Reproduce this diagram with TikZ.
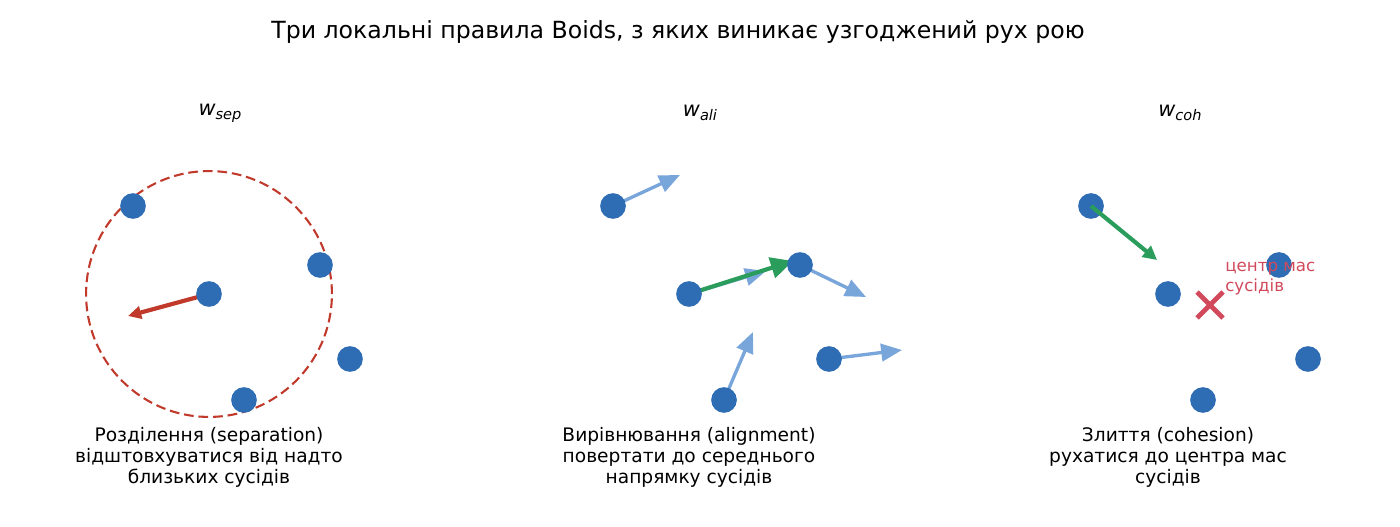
\documentclass[tikz,border=0pt]{standalone}
\usepackage{fontspec}
\setmainfont{DejaVu Sans}
\usetikzlibrary{arrows.meta,calc}
\definecolor{boid}{HTML}{2E6DB4}
\definecolor{sepred}{HTML}{C0392B}
\definecolor{alig}{HTML}{2A9D5C}
\definecolor{lblue}{HTML}{79A6DA}
\definecolor{xred}{HTML}{D1495B}
\tikzset{
  x=0.72pt, y=-0.72pt,
  boidnode/.style={circle, fill=boid, draw=none, minimum size=18.5pt, inner sep=0pt},
  labeltext/.style={align=center, inner sep=0pt, font=\fontsize{13.4}{15.2}\selectfont},
  wlabel/.style={inner sep=0pt, font=\fontsize{15}{16}\selectfont},
  headingtext/.style={inner sep=0pt, font=\fontsize{17}{19}\selectfont},
  redarrow/.style={draw=sepred, line width=3pt, -{Triangle[length=9.5pt,width=9pt]}},
  greenarrow/.style={draw=alig, line width=3pt, -{Triangle[length=10pt,width=10pt]}},
  biggreen/.style={draw=alig, line width=3pt, -{Triangle[length=16pt,width=15pt]}},
  bluearrow/.style={draw=lblue, line width=2.4pt, -{Triangle[length=15pt,width=12.5pt]}},
}
\begin{document}
\begin{tikzpicture}
\useasboundingbox (0,0) rectangle (1400,527);
\node[headingtext] (title) at (678,32) {Три локальні правила Boids, з яких виникає узгоджений рух рою};

% ---- separation ----
\node[wlabel] (wsep) at (220,113) {\itshape w\raisebox{-0.35ex}{\fontsize{10.5}{10}\selectfont sep}};
\node[circle, draw=sepred, dashed, dash pattern=on 7pt off 3.5pt, line width=1.5pt, minimum size=177pt, inner sep=0pt] (range) at (209,294) {};
\coordinate (sepend) at (128,316);
\draw[redarrow] (209,294) -- (sepend);
\node[boidnode] (s0) at (209,294) {};
\node[boidnode] (s1) at (133,206) {};
\node[boidnode] (s2) at (320,265) {};
\node[boidnode] (s3) at (350,359) {};
\node[boidnode] (s4) at (244,400) {};
\node[labeltext] (seplab) at (209,457) {Розділення (separation)\\відштовхуватися від надто\\близьких сусідів};

% ---- alignment ----
\node[wlabel] (wali) at (700,113) {\itshape w\raisebox{-0.35ex}{\fontsize{10.5}{10}\selectfont ali}};
\coordinate (a1e) at (680,175);
\coordinate (a0e) at (766,271);
\coordinate (a0g) at (793,261);
\coordinate (a2e) at (866,297);
\coordinate (a3e) at (902,350);
\coordinate (a4e) at (753,332);
\draw[bluearrow] (613,206) -- (a1e);
\draw[bluearrow] (689,294) -- (a0e);
\draw[bluearrow] (800,265) -- (a2e);
\draw[bluearrow] (829,359) -- (a3e);
\draw[bluearrow] (724,400) -- (a4e);
\draw[biggreen] (689,294) -- (a0g);
\node[boidnode] (a1) at (613,206) {};
\node[boidnode] (a0) at (689,294) {};
\node[boidnode] (a2) at (800,265) {};
\node[boidnode] (a3) at (829,359) {};
\node[boidnode] (a4) at (724,400) {};
\node[labeltext] (alilab) at (689,457) {Вирівнювання (alignment)\\повертати до середнього\\напрямку сусідів};

% ---- cohesion ----
\node[wlabel] (wcoh) at (1180,113) {\itshape w\raisebox{-0.35ex}{\fontsize{10.5}{10}\selectfont coh}};
\node[boidnode] (c1) at (1091,206) {};
\node[boidnode] (c0) at (1168,294) {};
\node[boidnode] (c2) at (1279,265) {};
\node[boidnode] (c3) at (1308,359) {};
\node[boidnode] (c4) at (1203,400) {};
\coordinate (cend) at (1157,260);
\draw[greenarrow] (c1.center) -- (cend);
\coordinate (com) at (1210,305);
\draw[xred, line width=3.5pt] ($(com)+(-13,-13)$) -- ($(com)+(13,13)$) ($(com)+(-13,13)$) -- ($(com)+(13,-13)$);
\node[anchor=north west, align=left, inner sep=0pt, text=xred, font=\fontsize{12}{14.4}\selectfont] (comlab) at (1225,262) {центр мас\\сусідів};
\node[labeltext] (cohlab) at (1168,457) {Злиття (cohesion)\\рухатися до центра мас\\сусідів};
\end{tikzpicture}
\end{document}
